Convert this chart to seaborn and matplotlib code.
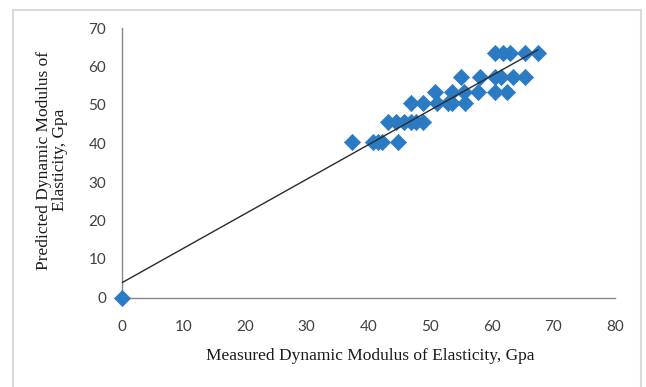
import numpy as np
import pandas as pd
import matplotlib
matplotlib.use("Agg")
import matplotlib.pyplot as plt
from matplotlib.patches import Rectangle
import seaborn as sns

# Measured vs predicted dynamic modulus of elasticity (GPa)
measured = [0.0,
            37.3, 40.8, 41.6, 42.2, 44.9,
            43.2, 44.5, 45.8, 47.0, 47.8, 48.9,
            47.0, 48.9, 51.1, 53.0, 53.6, 55.7,
            50.8, 53.5, 55.5, 57.8, 60.5, 62.5,
            55.1, 58.1, 60.5, 61.5, 63.5, 65.4,
            60.5, 61.8, 63.0, 65.4, 67.5]
predicted = [0.0,
             40.5, 40.5, 40.5, 40.5, 40.5,
             45.7, 45.7, 45.7, 45.7, 45.7, 45.7,
             50.4, 50.4, 50.4, 50.4, 50.4, 50.4,
             53.5, 53.5, 53.5, 53.5, 53.5, 53.5,
             57.4, 57.4, 57.4, 57.4, 57.4, 57.4,
             63.4, 63.4, 63.4, 63.4, 63.4]

x_ticks = [0, 10, 20, 30, 40, 50, 60, 70, 80]
y_ticks = [0, 10, 20, 30, 40, 50, 60, 70]

df = pd.DataFrame({"measured": measured, "predicted": predicted})

sns.set_style("white")
plt.rcParams["font.family"] = ["Lato", "DejaVu Sans"]

W, H = 646, 387
fig = plt.figure(figsize=(W / 100, H / 100), dpi=100)
ax = fig.add_axes([121.5 / W, 1 - 297.5 / H, (615 - 121.5) / W, (297.5 - 28) / H])

# chart-area border
fig.patches.append(Rectangle((13 / W, -0.05), (641 - 13) / W, 1.05 - 10 / H,
                             transform=fig.transFigure, fill=False,
                             edgecolor="#d9d9d9", linewidth=1.5, zorder=0))

blue = "#2B7BC4"
sns.scatterplot(data=df, x="measured", y="predicted", ax=ax, marker="D",
                s=68, color=blue, edgecolor=blue, linewidth=0.5, zorder=3,
                clip_on=False)
sns.regplot(data=df, x="measured", y="predicted", ax=ax, scatter=False,
            ci=None, truncate=True,
            line_kws=dict(color="#2a2a2a", linewidth=1.0, zorder=4))

ax.set_xlim(0, 80)
ax.set_ylim(0, 70)
ax.set_xticks(x_ticks)
ax.set_yticks(y_ticks)
ax.tick_params(axis="both", direction="out", length=5, width=1,
               color="#868686", labelsize=11, labelcolor="#404040", pad=6)
ax.tick_params(axis="x", pad=11)
for side in ["top", "right"]:
    ax.spines[side].set_visible(False)
for side in ["left", "bottom"]:
    ax.spines[side].set_color("#868686")
    ax.spines[side].set_linewidth(1)
ax.set_xlabel("")
ax.set_ylabel("")

serif = ["Liberation Serif", "DejaVu Serif"]
fig.text(370 / W, 1 - 356 / H, "Measured Dynamic Modulus of Elasticity, Gpa",
         ha="center", va="center", fontsize=12.5, family=serif, color="#1a1a1a")
fig.text(52 / W, 1 - 160 / H, "Predicted Dynamic Modulus of\nElasticity, Gpa",
         ha="center", va="center", rotation=90, fontsize=12.5, family=serif,
         color="#1a1a1a", linespacing=1.0, multialignment="center")

fig.savefig("out.png", dpi=100)
